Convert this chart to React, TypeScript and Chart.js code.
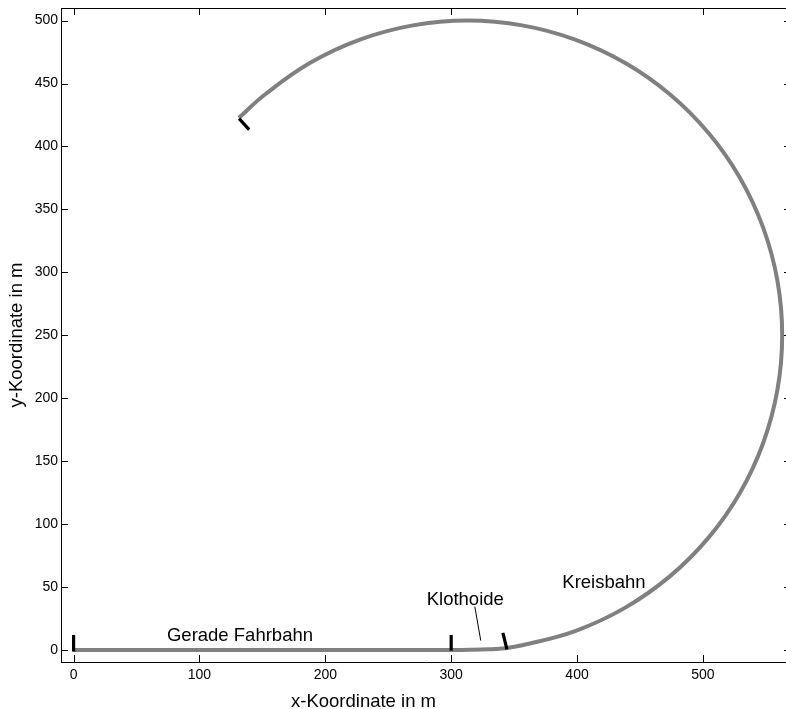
import { useEffect, useRef } from "react";
import { Chart, registerables } from "chart.js";
Chart.register(...registerables);

// Path segments (metres)
const straightX = [0, 100, 200, 300];
const straightY = [0, 0, 0, 0];
const clothoidX = [300, 315, 330, 343];
const clothoidY = [0, 0.15, 0.6, 1.5];
const arcX = [343, 356.4, 398.5, 438, 473.7, 504.5, 529.5, 547.9, 559.2, 563, 559.2, 547.9, 529.5, 504.5, 473.7, 438, 398.5, 356.4, 313, 269.6, 227.5, 188, 152.3, 131.3];
const arcY = [1.5, 3.8, 15.1, 33.5, 58.5, 89.3, 125, 164.5, 206.6, 250, 293.4, 335.5, 375, 410.7, 441.5, 466.5, 484.9, 496.2, 500, 496.2, 484.9, 466.5, 441.5, 422.7];

// Segment boundary markers
const markerX = [[0, 0], [300, 300], [341.1, 344.3], [131.5, 139.5]];
const markerY = [[-1.2, 12], [-0.5, 12], [13.7, 0.5], [422.1, 413.4]];

// Annotations
const labelTexts = ["Gerade Fahrbahn", "Klothoide", "Kreisbahn"];
const labelX = [132.2, 311.2, 421.4];
const labelY = [7.5, 35.8, 49];
const leaderX = [318.8, 323.5];
const leaderY = [34.4, 7.5];

const xTicks = [0, 100, 200, 300, 400, 500];
const yTicks = [0, 50, 100, 150, 200, 250, 300, 350, 400, 450, 500];
const xTitle = "x-Koordinate in m";
const yTitle = "y-Koordinate in m";

const FONT = "'Liberation Sans', Arial, Helvetica, sans-serif";
const GRAY = "rgb(128,128,128)";

const toPts = (xs: number[], ys: number[]) => xs.map((x, i) => ({ x, y: ys[i] }));

export default function App() {
  const ref = useRef<HTMLCanvasElement | null>(null);
  useEffect(() => {
    if (!ref.current) return;
    const path = [
      ...toPts(straightX, straightY),
      ...toPts(clothoidX, clothoidY).slice(1),
      ...toPts(arcX, arcY).slice(1),
    ];
    const datasets: any[] = [
      {
        data: path,
        showLine: true,
        borderColor: GRAY,
        borderWidth: 4,
        pointRadius: 0,
        tension: 0.4,
        borderJoinStyle: "round",
        order: 2,
      },
      ...markerX.map((mx, i) => ({
        data: toPts(mx, markerY[i]),
        showLine: true,
        borderColor: "#000",
        borderWidth: 3.2,
        pointRadius: 0,
        borderCapStyle: "butt",
        order: 1,
      })),
      {
        data: toPts(leaderX, leaderY),
        showLine: true,
        borderColor: "#000",
        borderWidth: 1,
        pointRadius: 0,
        order: 1,
      },
    ];

    const framePlugin = {
      id: "frame",
      beforeDatasetsDraw(chart: any) {
        const { ctx, chartArea: a, scales } = chart;
        ctx.save();
        ctx.strokeStyle = "#000";
        ctx.lineWidth = 1;
        ctx.beginPath();
        ctx.moveTo(a.left, a.top + 0.5);
        ctx.lineTo(a.right, a.top + 0.5);
        ctx.moveTo(a.right - 0.5, a.top);
        ctx.lineTo(a.right - 0.5, a.bottom);
        const L = 7;
        xTicks.forEach((v) => {
          const px = Math.round(scales.x.getPixelForValue(v)) + 0.5;
          ctx.moveTo(px, a.bottom);
          ctx.lineTo(px, a.bottom - L);
          ctx.moveTo(px, a.top);
          ctx.lineTo(px, a.top + L);
        });
        yTicks.forEach((v) => {
          const py = Math.round(scales.y.getPixelForValue(v)) + 0.5;
          ctx.moveTo(a.left, py);
          ctx.lineTo(a.left + L, py);
          ctx.moveTo(a.right, py);
          ctx.lineTo(a.right - L, py);
        });
        ctx.stroke();
        ctx.restore();
      },
      afterDraw(chart: any) {
        const { ctx, scales } = chart;
        ctx.save();
        ctx.fillStyle = "#000";
        ctx.font = `18.5px ${FONT}`;
        ctx.textAlign = "center";
        ctx.textBaseline = "alphabetic";
        labelTexts.forEach((t, i) => {
          ctx.fillText(t, scales.x.getPixelForValue(labelX[i]), scales.y.getPixelForValue(labelY[i]));
        });
        ctx.fillText(xTitle, 363.5, 707);
        ctx.translate(22, 335);
        ctx.rotate(-Math.PI / 2);
        ctx.fillText(yTitle, 0, 0);
        ctx.restore();
      },
    };

    const chart = new Chart(ref.current, {
      type: "scatter",
      data: { datasets },
      options: {
        responsive: false,
        animation: false,
        devicePixelRatio: 1,
        layout: { padding: { top: 8, right: 1, left: 0, bottom: 0 } },
        plugins: { legend: { display: false }, tooltip: { enabled: false } },
        scales: {
          x: {
            type: "linear",
            min: -10,
            max: 570,
            grid: { drawOnChartArea: false, drawTicks: false },
            border: { display: true, color: "#000", width: 1 },
            ticks: { color: "#000", font: { size: 14, family: FONT }, padding: 5 },
            afterBuildTicks: (s: any) => {
              s.ticks = xTicks.map((v) => ({ value: v }));
            },
            afterFit: (s: any) => {
              s.height = 47;
              s.paddingLeft = 0;
              s.paddingRight = 0;
            },
          },
          y: {
            type: "linear",
            min: -9.5,
            max: 510,
            grid: { drawOnChartArea: false, drawTicks: false },
            border: { display: true, color: "#000", width: 1 },
            ticks: { color: "#000", font: { size: 14, family: FONT }, padding: 3 },
            afterBuildTicks: (s: any) => {
              s.ticks = yTicks.map((v) => ({ value: v }));
            },
            afterFit: (s: any) => {
              s.width = 61;
              s.paddingTop = 0;
              s.paddingBottom = 0;
            },
          },
        },
      } as any,
      plugins: [framePlugin],
    });
    return () => chart.destroy();
  }, []);

  return (
    <div style={{ position: "absolute", left: 0, top: 0, width: 786, height: 709, overflow: "hidden", background: "#fff" }}>
      <canvas ref={ref} width={792} height={709} style={{ display: "block", width: 792, height: 709 }} />
    </div>
  );
}
